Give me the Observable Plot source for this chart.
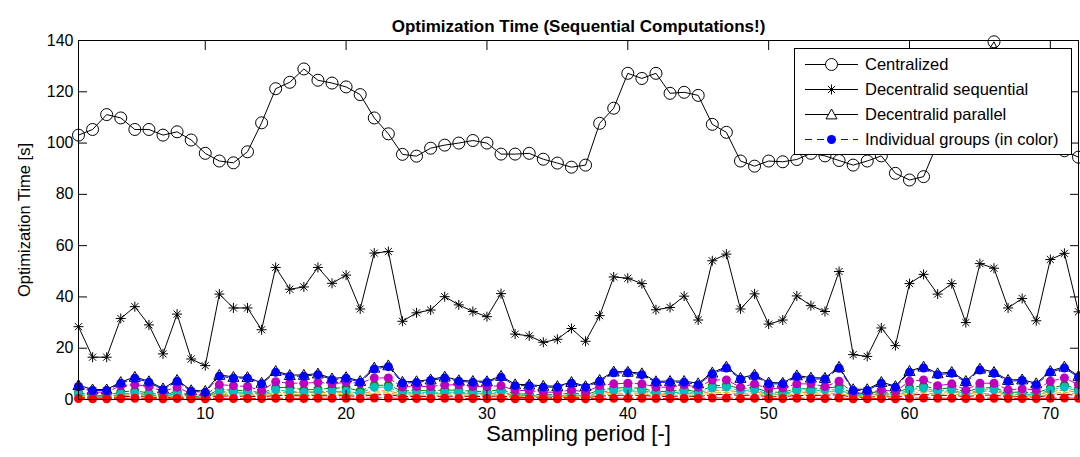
<!DOCTYPE html>
<html><head><meta charset="utf-8">
<script src="https://cdn.jsdelivr.net/npm/d3@7"></script>
<script src="https://cdn.jsdelivr.net/npm/@observablehq/plot@0.6"></script>
<style>
body{margin:0;background:#fff;font-family:"Liberation Sans",Arial,sans-serif;}
#wrap{position:relative;width:1080px;height:457px;}
#legend{position:absolute;left:794px;top:48px;width:278px;height:107px;background:#fff;border:1px solid #000;box-sizing:border-box;}
#legend svg{display:block;}
</style></head><body><div id="wrap"></div>
<script>
const titleText = "Optimization Time (Sequential Computations!)";
const xLabel = "Sampling period [-]";
const yLabel = "Optimization Time [s]";
const xTicks = [10, 20, 30, 40, 50, 60, 70];
const yTicks = [0, 20, 40, 60, 80, 100, 120, 140];
const periods = d3.range(1, 73);

const centralized = [103.1,105.3,111.1,109.8,105.3,105.3,103.1,104.4,101.2,96.0,93.0,92.3,96.6,107.9,121.2,123.7,128.9,124.5,123.4,121.9,118.9,109.8,103.6,95.6,94.9,98.0,99.2,100.0,101.0,100.0,95.7,95.7,96.0,93.7,92.2,90.6,91.4,107.7,113.6,127.2,125.2,127.2,119.4,119.8,118.6,107.3,104.2,93.0,91.0,93.0,92.7,93.6,96.0,95.0,93.2,91.4,93.0,95.0,88.2,85.6,86.9,100.0,112.0,122.0,131.0,139.5,128.0,117.0,108.0,101.0,97.0,94.5];
const decSequential = [28.4,16.5,16.5,31.6,36.2,29.1,17.8,33.3,15.8,13.2,41.1,35.7,35.7,27.2,51.5,43.0,43.9,51.5,45.3,48.5,35.3,57.1,57.7,30.5,33.8,34.9,40.1,36.9,34.3,32.3,41.3,25.5,24.8,22.3,23.5,27.7,22.7,32.7,47.8,47.3,45.2,35.0,35.9,40.3,31.0,54.1,56.7,35.3,41.2,29.4,31.0,40.4,36.6,34.3,49.9,17.5,16.8,27.9,21.0,45.2,48.8,41.1,45.2,30.0,53.0,51.2,35.7,39.4,30.7,54.6,57.0,34.2];
const decParallel = [5.6,3.9,3.9,6.8,8.8,7.1,4.3,7.6,3.6,3.3,9.6,8.8,8.7,6.5,11.1,9.5,9.6,10.1,8.2,8.7,7.2,12.4,13.3,6.9,7.1,7.8,8.9,7.5,7.2,7.1,9.2,5.9,5.8,5.3,5.2,6.8,5.2,7.6,10.9,10.8,10.2,7.1,7.2,7.2,6.3,10.5,12.8,8.4,9.7,6.6,6.5,9.4,8.5,8.4,12.7,4.0,4.0,6.8,5.2,11.1,12.8,10.2,10.7,7.2,12.0,10.7,7.6,7.8,6.3,11.1,12.8,9.2];
const groupBlue = [5.0,3.5,3.5,6.3,8.3,6.7,3.8,7.1,3.2,2.8,9.1,8.3,8.3,6.1,10.6,9.1,9.1,9.7,7.7,8.3,6.7,11.9,12.8,6.4,6.6,7.4,8.4,7.1,6.7,6.7,8.7,5.4,5.4,4.8,4.8,6.35,4.8,7.1,10.4,10.4,9.7,6.7,6.7,6.7,5.8,10.0,12.3,7.9,9.2,6.1,6.1,8.9,8.0,8.0,12.2,3.5,3.5,6.35,4.8,10.6,12.3,9.7,10.2,6.7,11.5,10.2,7.1,7.4,5.8,10.6,12.3,8.7];
const groupMagenta = [5.05,2.85,2.85,5.4,5.8,5.05,3.2,4.8,2.2,1.6,5.8,5.4,5.05,3.5,6.9,6.35,6.35,6.7,6.1,6.7,6.35,8.4,8.4,4.9,5.05,5.05,5.7,5.7,5.05,5.05,5.4,3.5,3.5,2.85,2.85,3.76,2.85,5.4,6.1,6.35,6.1,4.8,4.8,5.7,4.8,7.65,7.65,4.8,6.1,4.15,4.5,6.1,6.1,5.05,7.1,2.46,2.46,3.76,3.1,7.1,7.65,5.4,6.1,3.76,6.35,6.35,3.76,4.15,3.76,7.1,8.4,5.8];
const groupCyan = [2.2,0.9,0.9,2.2,2.46,1.94,1.17,2.46,0.9,0.9,3.1,2.85,2.85,1.94,3.76,3.1,2.85,3.1,3.1,3.2,2.46,4.8,4.8,2.4,2.85,2.46,2.85,2.85,2.46,2.46,3.1,1.56,1.56,1.3,1.3,1.94,1.3,2.85,3.5,3.76,3.5,2.46,2.46,3.1,2.2,4.5,4.8,3.5,3.76,2.2,2.2,3.5,3.2,3.76,3.76,1.9,1.9,2.46,1.9,3.76,4.5,3.2,3.76,2.2,3.76,3.76,2.2,2.2,1.9,3.76,4.8,3.2];
const groupGreen = [2.8,1.4,1.5,3.0,3.3,2.6,1.6,3.2,1.3,1.2,3.9,3.6,3.5,2.5,4.6,4.8,3.7,4.0,4.4,4.6,3.3,5.5,5.6,3.2,3.6,3.3,3.7,3.6,3.2,3.1,3.9,2.2,2.1,1.8,1.9,2.6,1.8,3.7,4.4,4.7,4.3,3.1,3.2,3.9,2.9,5.3,5.6,4.3,4.6,2.9,2.8,4.3,4.0,4.5,4.9,2.4,2.5,3.1,2.5,4.6,5.3,4.0,4.6,2.9,4.6,4.5,2.8,2.9,2.5,4.5,5.6,4.0];
const groupRed = [0.4,0.3,0.3,0.4,0.5,0.4,0.3,0.4,0.3,0.3,0.5,0.4,0.4,0.4,0.5,0.5,0.4,0.5,0.5,0.5,0.4,0.6,0.6,0.4,0.4,0.4,0.5,0.4,0.4,0.4,0.5,0.3,0.3,0.3,0.3,0.4,0.3,0.4,0.5,0.5,0.5,0.4,0.4,0.4,0.4,0.6,0.6,0.4,0.5,0.4,0.4,0.5,0.5,0.4,0.6,0.3,0.3,0.4,0.3,0.5,0.6,0.5,0.5,0.4,0.5,0.5,0.4,0.4,0.4,0.5,0.6,0.5];
const groupOrange = [1.8,1.0,1.1,2.0,2.3,1.8,1.2,2.1,1.0,0.9,2.6,2.4,2.4,1.7,2.9,2.7,2.6,2.8,2.6,2.7,2.2,3.3,3.4,2.0,2.3,2.1,2.4,2.4,2.1,2.1,2.6,1.4,1.4,1.2,1.2,1.7,1.2,2.4,2.9,3.1,2.9,2.1,2.1,2.6,1.9,3.4,3.6,2.9,3.1,1.9,1.9,2.9,2.7,3.0,3.1,1.6,1.6,2.1,1.6,3.1,3.6,2.7,3.1,1.9,3.1,3.1,1.9,1.9,1.6,3.1,3.7,2.7];
const groupOlive = [1.3,0.8,0.8,1.5,1.7,1.3,0.9,1.6,0.8,0.7,2.0,1.8,1.8,1.3,2.2,2.0,1.9,2.1,1.9,2.0,1.6,2.5,2.6,1.5,1.7,1.6,1.8,1.8,1.6,1.6,2.0,1.1,1.1,0.9,0.9,1.3,0.9,1.8,2.2,2.3,2.2,1.6,1.6,1.9,1.4,2.6,2.7,2.2,2.3,1.4,1.4,2.2,2.0,2.3,2.4,1.2,1.2,1.6,1.2,2.3,2.7,2.0,2.3,1.4,2.3,2.3,1.4,1.4,1.2,2.3,2.8,2.0];
const groupDarkRed = [1.0,0.6,0.6,1.1,1.2,1.0,0.7,1.1,0.6,0.6,1.4,1.3,1.3,1.0,1.6,1.5,1.4,1.5,1.4,1.5,1.2,1.8,1.9,1.1,1.2,1.2,1.3,1.3,1.2,1.2,1.4,0.8,0.8,0.7,0.7,1.0,0.7,1.3,1.6,1.7,1.6,1.2,1.2,1.4,1.1,1.9,2.0,1.6,1.7,1.1,1.1,1.6,1.5,1.7,1.8,0.9,0.9,1.2,0.9,1.7,2.0,1.5,1.7,1.1,1.7,1.7,1.1,1.1,0.9,1.7,2.1,1.5];

const rows = arr => periods.map((p, i) => ({period: p, value: arr[i]}));

const asterisk8 = {draw(ctx, size) {
  const r = Math.sqrt(size / Math.PI), d = r * Math.SQRT1_2;
  ctx.moveTo(-r, 0); ctx.lineTo(r, 0); ctx.moveTo(0, -r); ctx.lineTo(0, r);
  ctx.moveTo(-d, -d); ctx.lineTo(d, d); ctx.moveTo(-d, d); ctx.lineTo(d, -d);
}};
const triUp = {draw(ctx, size) {
  const r = Math.sqrt(size / Math.PI);
  ctx.moveTo(0, -r); ctx.lineTo(r, 0.8 * r); ctx.lineTo(-r, 0.8 * r); ctx.closePath();
}};

const dash = "6,3";
const groupSpecs = [
  {data: groupDarkRed, color: "#800000", dot: false},
  {data: groupOlive, color: "#BFBF00", dot: false},
  {data: groupOrange, color: "#FF8000", dot: false},
  {data: groupGreen, color: "#008000", dot: true},
  {data: groupCyan, color: "#00BFBF", dot: true},
  {data: groupMagenta, color: "#BF00BF", dot: true},
  {data: groupRed, color: "#FF0000", dot: true},
  {data: groupBlue, color: "#0000FF", dot: true}
];
const groupMarks = [];
for (const g of groupSpecs) {
  groupMarks.push(Plot.line(rows(g.data), {x: "period", y: "value", stroke: g.color, strokeWidth: 1, strokeDasharray: dash}));
}
for (const g of groupSpecs) {
  if (g.dot) groupMarks.push(Plot.dot(rows(g.data), {x: "period", y: "value", fill: g.color, r: 4.5, stroke: "none"}));
}

const chart = Plot.plot({
  width: 1080, height: 457,
  marginLeft: 78, marginRight: 2, marginTop: 40, marginBottom: 58,
  x: {domain: [1, 72]},
  y: {domain: [0, 140]},
  style: {fontFamily: "'Liberation Sans', Arial, sans-serif", fontSize: "16px", color: "black", background: "white", overflow: "visible"},
  marks: [
    Plot.line(rows(centralized), {x: "period", y: "value", stroke: "black", strokeWidth: 1}),
    Plot.dot(rows(centralized), {x: "period", y: "value", r: 6, stroke: "black", fill: "none", strokeWidth: 1}),
    Plot.line(rows(decSequential), {x: "period", y: "value", stroke: "black", strokeWidth: 1}),
    Plot.dot(rows(decSequential), {x: "period", y: "value", r: 5, symbol: asterisk8, stroke: "black", fill: "none", strokeWidth: 1}),
    Plot.line(rows(decParallel), {x: "period", y: "value", stroke: "black", strokeWidth: 1}),
    Plot.dot(rows(decParallel), {x: "period", y: "value", r: 5.5, symbol: triUp, stroke: "black", fill: "none", strokeWidth: 1}),
    ...groupMarks,
    Plot.frame({stroke: "black", strokeWidth: 1}),
    Plot.axisX({ticks: xTicks, anchor: "bottom", tickSize: -9, tickFormat: () => "", label: null}),
    Plot.axisX({ticks: xTicks, anchor: "top", tickSize: -9, tickFormat: () => "", label: null}),
    Plot.axisX({ticks: xTicks, anchor: "bottom", tickSize: 0, tickPadding: 8, label: null, fontSize: 16}),
    Plot.axisY({ticks: yTicks, anchor: "left", tickSize: -9, tickFormat: () => "", label: null}),
    Plot.axisY({ticks: yTicks, anchor: "right", tickSize: -9, tickFormat: () => "", label: null}),
    Plot.axisY({ticks: yTicks, anchor: "left", tickSize: 0, tickPadding: 5, label: null, fontSize: 16}),
    Plot.text([titleText], {frameAnchor: "top", dy: -21, fontWeight: "bold", fontSize: 17}),
    Plot.text([xLabel], {frameAnchor: "bottom", dy: 41, fontSize: 22}),
    Plot.text([yLabel], {frameAnchor: "left", dx: -54, rotate: -90, fontSize: 16.5, textAnchor: "middle"})
  ]
});
const wrap = document.getElementById("wrap");
wrap.appendChild(chart);

// Legend (HTML overlay inside the axes, like MATLAB's boxed legend)
const legendItems = [
  {label: "Centralized", stroke: "black", dash: null, marker: "circle"},
  {label: "Decentralid sequential", stroke: "black", dash: null, marker: "star"},
  {label: "Decentralid parallel", stroke: "black", dash: null, marker: "triangle"},
  {label: "Individual groups (in color)", stroke: "#0000FF", dash: "7,5", marker: "dot"}
];
const leg = document.createElement("div");
leg.id = "legend";
const W = 276, H = 105;
const svg = d3.create("svg").attr("width", W).attr("height", H);
legendItems.forEach((it, i) => {
  const cy = 15.5 + i * 25;
  const g = svg.append("g").attr("transform", `translate(0,${cy})`);
  g.append("line").attr("x1", 10).attr("x2", 63).attr("y1", 0).attr("y2", 0)
    .attr("stroke", it.stroke).attr("stroke-width", 1).attr("stroke-dasharray", it.dash);
  const mx = 36.5;
  if (it.marker === "circle") g.append("circle").attr("cx", mx).attr("r", 6).attr("fill", "white").attr("stroke", "black");
  if (it.marker === "star") g.append("path").attr("transform", `translate(${mx},0)`).attr("d", d3.symbol(asterisk8, Math.PI * 25)()).attr("stroke", "black").attr("fill", "none");
  if (it.marker === "triangle") g.append("path").attr("transform", `translate(${mx},0)`).attr("d", d3.symbol(triUp, Math.PI * 30)()).attr("stroke", "black").attr("fill", "white");
  if (it.marker === "dot") g.append("circle").attr("cx", mx).attr("r", 4.5).attr("fill", "#0000FF");
  g.append("text").attr("x", 70).attr("y", 0).attr("dy", "0.35em").attr("font-size", 16.5)
    .attr("font-family", "'Liberation Sans', Arial, sans-serif").attr("fill", "black").text(it.label);
});
leg.appendChild(svg.node());
wrap.appendChild(leg);
</script>
</body></html>
